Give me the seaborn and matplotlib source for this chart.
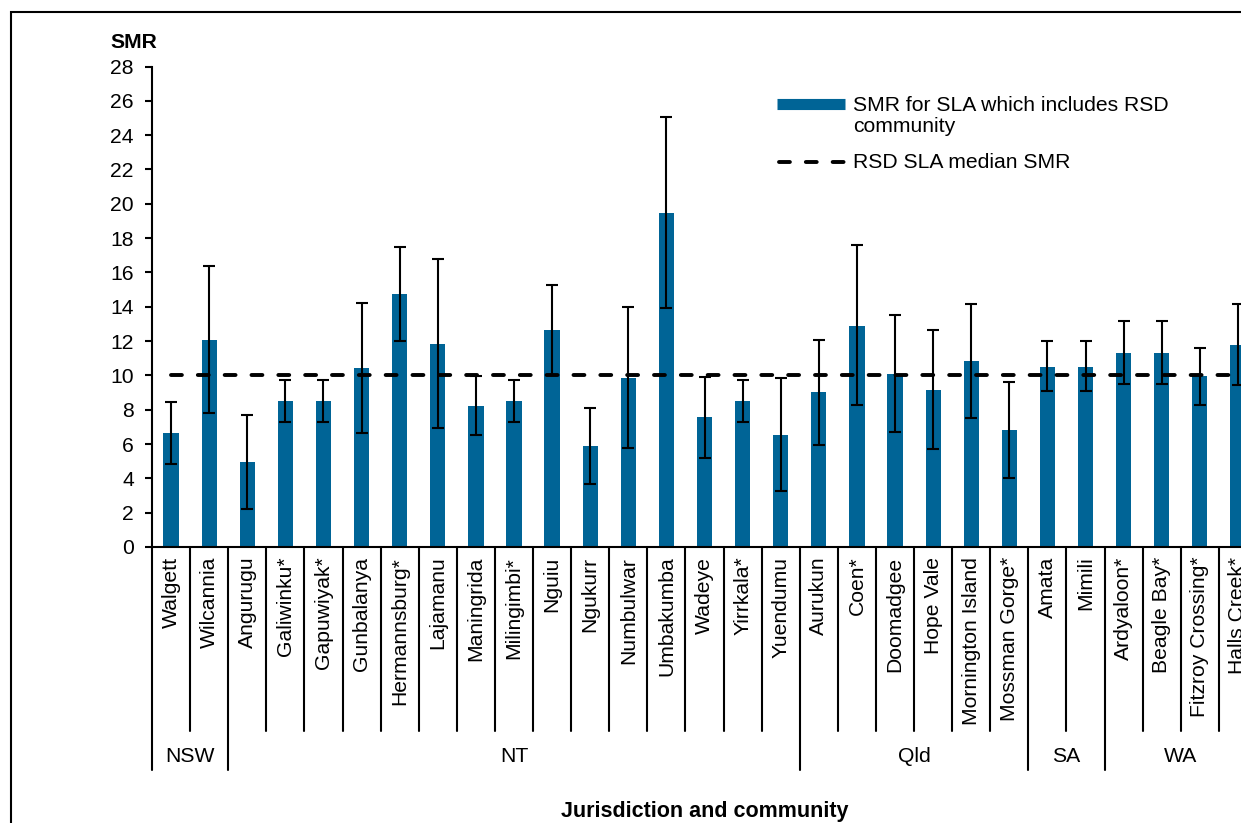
import numpy as np
import pandas as pd
import matplotlib
matplotlib.use("Agg")
import matplotlib.pyplot as plt
from matplotlib.lines import Line2D
from matplotlib.patches import Rectangle
import seaborn as sns

# Communities grouped by jurisdiction
communities = [
    "Walgett", "Wilcannia",
    "Angurugu", "Galiwinku*", "Gapuwiyak*", "Gunbalanya", "Hermannsburg*",
    "Lajamanu", "Maningrida", "Milingimbi*", "Nguiu", "Ngukurr", "Numbulwar",
    "Umbakumba", "Wadeye", "Yirrkala*", "Yuendumu",
    "Aurukun", "Coen*", "Doomadgee", "Hope Vale", "Mornington Island", "Mossman Gorge*",
    "Amata", "Mimili",
    "Ardyaloon*", "Beagle Bay*", "Fitzroy Crossing*", "Halls Creek*",
]
jurisdictions = ["NSW", "NT", "Qld", "SA", "WA"]
jurisdiction_sizes = [2, 15, 6, 2, 4]

# Standardised mortality ratio and its confidence interval
smr = [
    6.63, 12.08,
    4.97, 8.53, 8.53, 10.41, 14.72, 11.85, 8.24, 8.53, 12.67, 5.91, 9.87,
    19.49, 7.56, 8.53, 6.53,
    9.01, 12.90, 10.10, 9.17, 10.82, 6.80,
    10.51, 10.51,
    11.31, 11.31, 9.97, 11.75,
]
ci_low = [
    4.82, 7.81,
    2.21, 7.31, 7.31, 6.64, 12.00, 6.94, 6.51, 7.31, 10.05, 3.69, 5.75,
    13.93, 5.21, 7.31, 3.26,
    5.97, 8.30, 6.70, 5.69, 7.52, 4.02,
    9.09, 9.09,
    9.48, 9.48, 8.30, 9.44,
]
ci_high = [
    8.45, 16.38,
    7.71, 9.75, 9.75, 14.22, 17.46, 16.80, 9.99, 9.75, 15.29, 8.12, 13.97,
    25.04, 9.89, 9.75, 9.85,
    12.05, 17.57, 13.52, 12.67, 14.18, 9.60,
    12.03, 12.03,
    13.19, 13.19, 11.60, 14.16,
]
median_smr = 10.05

BAR = "#006496"
FS = 15.2

sns.set_style("white")
plt.rcParams["font.family"] = ["Liberation Sans", "DejaVu Sans"]
plt.rcParams["text.color"] = "black"
plt.rcParams["axes.labelcolor"] = "black"
plt.rcParams["xtick.color"] = "black"
plt.rcParams["ytick.color"] = "black"

W, H = 1241, 823
fig = plt.figure(figsize=(W / 100, H / 100), dpi=100)
ax = fig.add_axes([152 / W, 276 / H, 1105 / W, 480.5 / H])

df = pd.DataFrame({"community": communities, "smr": smr})
sns.barplot(data=df, x="community", y="smr", color=BAR, width=0.4,
            saturation=1, errorbar=None, linewidth=0, ax=ax)

n = len(communities)
xs = np.arange(n)
smr_a = np.array(smr)
yerr = [smr_a - np.array(ci_low), np.array(ci_high) - smr_a]
ax.errorbar(xs, smr_a, yerr=yerr, fmt="none", ecolor="black",
            elinewidth=1.5, capsize=4, capthick=1.5, zorder=3)

dash = (0, (2.8, 4.1))
ax.plot([0, n - 0.5], [median_smr, median_smr], color="black", lw=2.8,
        ls=dash, dash_capstyle="round", zorder=4, clip_on=False)

ax.set_xlim(-0.5, n - 0.5)
ax.set_ylim(0, 28)
ax.set_yticks(range(0, 29, 2))
ax.set_ylabel("")
ax.set_xlabel("Jurisdiction and community", fontsize=15.5, fontweight="bold")
ax.xaxis.set_label_coords(0.5, -0.551)
ax.xaxis.label.set_va("center")

for side in ("top", "right"):
    ax.spines[side].set_visible(False)
for side in ("left", "bottom"):
    ax.spines[side].set_linewidth(1.5)
    ax.spines[side].set_color("black")

ax.tick_params(axis="y", left=True, direction="out", length=5, width=1.5,
               pad=8, labelsize=FS, colors="black")
ax.tick_params(axis="x", bottom=False, length=0, pad=7, labelsize=FS,
               labelrotation=90, colors="black")

# Category and jurisdiction separators below the axis
trans = ax.get_xaxis_transform()
bounds = np.cumsum([0] + jurisdiction_sizes)
for i in range(n + 1):
    depth = -0.464 if i in bounds else -0.383
    ax.plot([i - 0.5, i - 0.5], [0, depth], transform=trans, clip_on=False,
            color="black", lw=1.5)
for name, start, size in zip(jurisdictions, bounds[:-1], jurisdiction_sizes):
    ax.text(start + size / 2 - 0.5, -0.437, name, transform=trans,
            ha="center", va="center", fontsize=FS)

# Legend keys and labels, placed in figure pixels
def fx(px):
    return px / W


def fy(py):
    return 1 - py / H


fig.add_artist(Line2D([fx(777), fx(845)], [fy(104), fy(104)], color=BAR,
                      lw=8, solid_capstyle="butt", transform=fig.transFigure))
fig.text(fx(853), fy(116), "SMR for SLA which includes RSD\ncommunity",
         ha="left", va="center", fontsize=FS, linespacing=1.14)
fig.add_artist(Line2D([fx(779), fx(845)], [fy(162), fy(162)], color="black",
                      lw=2.8, ls=dash, dash_capstyle="round",
                      transform=fig.transFigure))
fig.text(fx(853), fy(162), "RSD SLA median SMR", ha="left", va="center",
         fontsize=FS)

fig.text(fx(110), fy(43), "SMR", fontsize=FS, fontweight="bold",
         ha="left", va="center")

fig.add_artist(Rectangle((fx(11), -0.1), 1.5, (H - 12) / H + 0.1,
                         transform=fig.transFigure, fill=False,
                         edgecolor="black", lw=1.5))

fig.savefig("out.png", dpi=100)
